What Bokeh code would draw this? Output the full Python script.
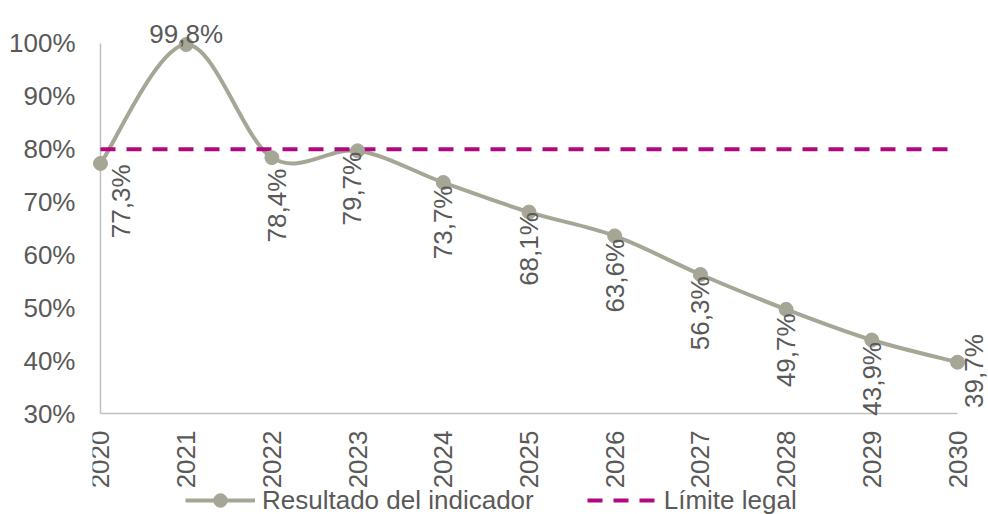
import math
from bokeh.plotting import figure
from bokeh.models import (ColumnDataSource, FixedTicker, NumeralTickFormatter,
                          Range1d, Legend, LegendItem)
from bokeh.core.properties import value
from bokeh.embed import file_html
from bokeh.resources import INLINE

# ---------------- data ----------------
years = [2020, 2021, 2022, 2023, 2024, 2025, 2026, 2027, 2028, 2029, 2030]
resultado = [77.3, 99.8, 78.4, 79.7, 73.7, 68.1, 63.6, 56.3, 49.7, 43.9, 39.7]
limite = [80, 80, 80, 80, 80, 80, 80, 80, 80, 80, 80]
y_ticks = [30, 40, 50, 60, 70, 80, 90, 100]
serie_names = ["Resultado del indicador", "Límite legal"]

# ---------------- styles ----------------
GRAY = "#A6A697"
MAGENTA = "#B0087E"
TEXT = "#595959"
AXIS = "#BFBFBF"
FONT = "Liberation Sans"
FS = "26px"

# label placement (screen px offsets from each point), horizontal label index
label_dx = [21, 0, 5, -6, 0, 0, 0, 0, 0, 0, 16]
label_dy = [1, 0, 11, 1, 3, 0, 3, 2, 4, 2, -28]
horizontal_idx = [1]

yv = [v / 100 for v in resultado]
n = len(years)
y_min = y_ticks[0] / 100
y_max = y_ticks[-1] / 100

# smooth curve as cubic Bezier segments (Catmull-Rom control points)
xp = [years[0]] + years + [years[-1]]
yp = [yv[0]] + yv + [yv[-1]]
seg = dict(x0=[], y0=[], x1=[], y1=[], cx0=[], cy0=[], cx1=[], cy1=[])
for i in range(n - 1):
    seg["x0"].append(years[i]); seg["y0"].append(yv[i])
    seg["x1"].append(years[i + 1]); seg["y1"].append(yv[i + 1])
    seg["cx0"].append(years[i] + (xp[i + 2] - xp[i]) / 6)
    seg["cy0"].append(yv[i] + (yp[i + 2] - yp[i]) / 6)
    seg["cx1"].append(years[i + 1] - (xp[i + 3] - xp[i + 1]) / 6)
    seg["cy1"].append(yv[i + 1] - (yp[i + 3] - yp[i + 1]) / 6)

p = figure(width=988, height=514,
           x_range=Range1d(2019.9067, 2030.3617),
           y_range=Range1d(0.10893, 1.08135),
           output_backend="svg", toolbar_location=None,
           min_border_left=92, min_border_right=0,
           min_border_top=0, min_border_bottom=0)
p.outline_line_color = None
p.xgrid.visible = False
p.ygrid.visible = False
p.background_fill_color = "white"
p.border_fill_color = "white"
p.xaxis.visible = False

p.yaxis.ticker = FixedTicker(ticks=[t / 100 for t in y_ticks])
p.yaxis.formatter = NumeralTickFormatter(format="0%")
p.yaxis.axis_line_color = None
p.yaxis.major_tick_line_color = None
p.yaxis.minor_tick_line_color = None
p.yaxis.major_label_standoff = 11
p.yaxis.major_label_text_font = FONT
p.yaxis.major_label_text_font_size = FS
p.yaxis.major_label_text_color = TEXT

# spines: left at first category, bottom at lowest tick
p.segment(x0=[years[0], years[0]], y0=[y_min, y_min], x1=[years[0], years[-1]], y1=[y_max, y_min],
          line_color=AXIS, line_width=1.5)

# category labels under the bottom spine
p.text(x=years, y=[y_min] * n, text=[str(y) for y in years], y_offset=17,
       angle=math.pi / 2, text_align="right", text_baseline="middle",
       text_font=value(FONT), text_font_size=FS, text_color=TEXT)

curve_r = p.bezier(x0="x0", y0="y0", x1="x1", y1="y1", cx0="cx0", cy0="cy0",
                   cx1="cx1", cy1="cy1", source=ColumnDataSource(seg),
                   line_color=GRAY, line_width=4)
limit_r = p.line(years, [v / 100 for v in limite], line_color=MAGENTA,
                 line_width=4, line_dash="15 11")
marker_r = p.scatter(years, yv, size=14, fill_color=GRAY, line_color=GRAY)

# data labels
labels = [("%.1f" % v).replace(".", ",") + "%" for v in resultado]
rot = [i for i in range(n) if i not in horizontal_idx]
hor = horizontal_idx
rsrc = ColumnDataSource(dict(x=[years[i] for i in rot], y=[yv[i] for i in rot],
                             t=[labels[i] for i in rot],
                             dx=[label_dx[i] for i in rot], dy=[label_dy[i] for i in rot]))
p.text(x="x", y="y", text="t", source=rsrc, x_offset="dx", y_offset="dy",
       angle=math.pi / 2, text_align="right", text_baseline="middle",
       text_font=value(FONT), text_font_size=FS, text_color=TEXT)
hsrc = ColumnDataSource(dict(x=[years[i] for i in hor], y=[yv[i] for i in hor],
                             t=[labels[i] for i in hor]))
p.text(x="x", y="y", text="t", source=hsrc, y_offset=-11,
       text_align="center", text_baseline="alphabetic",
       text_font=value(FONT), text_font_size=FS, text_color=TEXT)

legend = Legend(items=[LegendItem(label=value(serie_names[0]), renderers=[curve_r, marker_r]),
                       LegendItem(label=value(serie_names[1]), renderers=[limit_r])],
                location=(93, -3), orientation="horizontal", spacing=53,
                label_standoff=7, glyph_width=70, glyph_height=34, label_height=34,
                padding=0, margin=0, border_line_color=None, background_fill_alpha=0,
                label_text_font=FONT, label_text_font_size=FS, label_text_color=TEXT)
p.add_layout(legend)

open("out.html", "w").write(file_html(p, INLINE))
